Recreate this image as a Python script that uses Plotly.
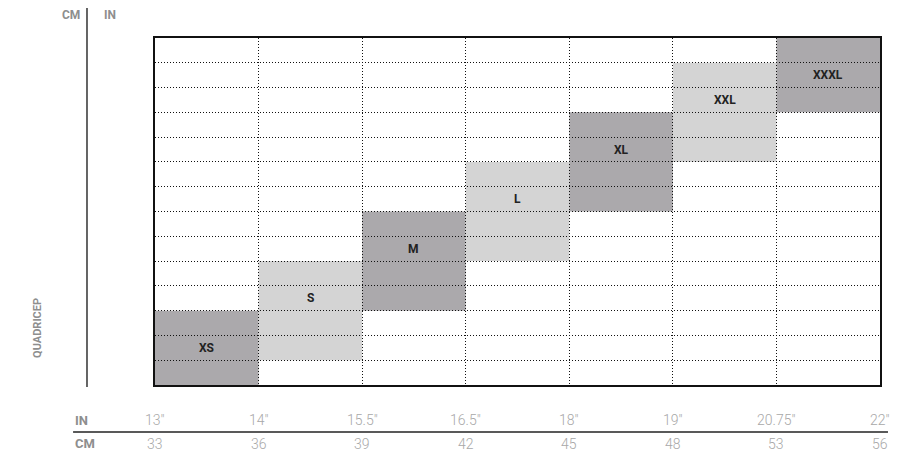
import plotly.graph_objects as go

# ---- data ----
sizes = ["XS", "S", "M", "L", "XL", "XXL", "XXXL"]
start_row = [0, 1, 3, 5, 7, 9, 11]
end_row = [3, 5, 7, 9, 11, 13, 14]
label_row = [1, 3, 5, 7, 9, 11, 12]
shade = ["dark", "light", "dark", "light", "dark", "light", "dark"]
in_labels = ['13"', '14"', '15.5"', '16.5"', '18"', '19"', '20.75"', '22"']
cm_labels = ["33", "36", "39", "42", "45", "48", "53", "56"]
n_rows = 14

colors = {"dark": "#aba9ac", "light": "#d4d4d4"}
label_gray = "#8e8e8e"
tick_gray = "#a8a8a8"

fig = go.Figure()
fig.add_trace(go.Scatter(x=[None], y=[None], showlegend=False, hoverinfo="skip"))

shapes = []
annotations = []
for i, s in enumerate(sizes):
    shapes.append(dict(type="rect", xref="x", yref="y", x0=i, x1=i + 1,
                       y0=start_row[i], y1=end_row[i], fillcolor=colors[shade[i]],
                       line=dict(width=0), layer="below"))
    annotations.append(dict(x=i + 0.5, y=label_row[i] + 0.5, xref="x", yref="y",
                            text="<b>%s</b>" % s, showarrow=False,
                            xanchor="center", yanchor="middle",
                            font=dict(family="Roboto", size=12, color="#222222")))

# bottom tick labels
for i, (a, b) in enumerate(zip(in_labels, cm_labels)):
    annotations.append(dict(x=i, y=-0.101, xref="x", yref="paper", text=a, showarrow=False,
                            xanchor="center", yanchor="middle",
                            font=dict(family="Roboto", size=14, color=tick_gray, weight=300)))
    annotations.append(dict(x=i, y=-0.170, xref="x", yref="paper", text=b, showarrow=False,
                            xanchor="center", yanchor="middle",
                            font=dict(family="Roboto", size=14, color=tick_gray, weight=300)))

# axis titles
for txt, y in [("IN", -0.101), ("CM", -0.170)]:
    annotations.append(dict(x=-0.113, y=y, xref="paper", yref="paper", text="<b>%s</b>" % txt,
                            showarrow=False, xanchor="left", yanchor="middle",
                            font=dict(family="Roboto", size=13, color=label_gray)))
annotations.append(dict(x=-0.1159, y=1.066, xref="paper", yref="paper", text="<b>CM</b>",
                        showarrow=False, xanchor="center", yanchor="middle",
                        font=dict(family="Roboto", size=12, color=label_gray)))
annotations.append(dict(x=-0.062, y=1.066, xref="paper", yref="paper", text="<b>IN</b>",
                        showarrow=False, xanchor="center", yanchor="middle",
                        font=dict(family="Roboto", size=12, color=label_gray)))
annotations.append(dict(x=-0.163, y=0.164, xref="paper", yref="paper", text="<b>QUADRICEP</b>",
                        showarrow=False, textangle=-90, xanchor="center", yanchor="middle",
                        font=dict(family="Roboto", size=11, color=label_gray)))

# decorative lines
shapes.append(dict(type="line", xref="paper", yref="paper", x0=-0.0938, x1=-0.0938,
                   y0=-0.006, y1=1.089, line=dict(color="#333333", width=1.5)))
shapes.append(dict(type="line", xref="paper", yref="paper", x0=-0.113, x1=1.011,
                   y0=-0.1354, y1=-0.1354, line=dict(color="#222222", width=1.5)))

fig.update_layout(
    width=891, height=449,
    margin=dict(l=147, r=19, t=30, b=72),
    paper_bgcolor="white", plot_bgcolor="white",
    shapes=shapes, annotations=annotations,
    showlegend=False,
    xaxis=dict(range=[0, len(sizes)], tickvals=list(range(1, len(sizes))),
               showticklabels=False, ticks="", showgrid=True, gridcolor="#111111",
               griddash="1px,2px", gridwidth=1, zeroline=False, showline=True, mirror=True,
               linecolor="#111111", linewidth=2, fixedrange=True),
    yaxis=dict(range=[0, n_rows], tickvals=list(range(1, n_rows)),
               showticklabels=False, ticks="", showgrid=True, gridcolor="#111111",
               griddash="1px,2px", gridwidth=1, zeroline=False, showline=True, mirror=True,
               linecolor="#111111", linewidth=2, fixedrange=True),
)

fig.write_html("out.html")
